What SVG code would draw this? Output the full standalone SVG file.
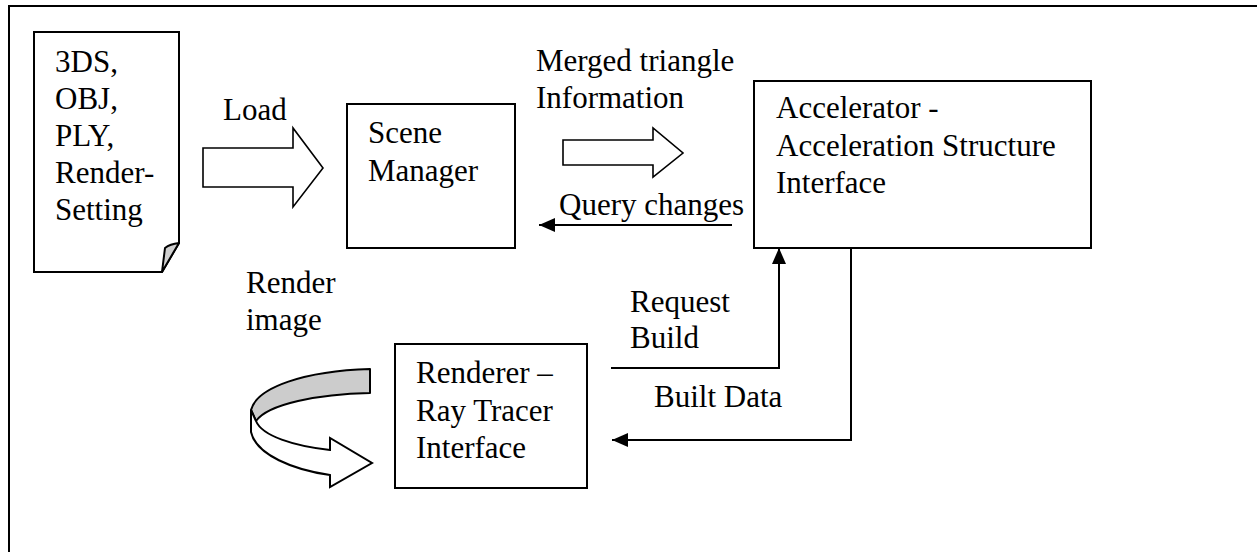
<svg xmlns="http://www.w3.org/2000/svg" width="1257" height="552" viewBox="0 0 1257 552">
  <style>
    text { font-family: "Liberation Serif", "Times New Roman", serif; font-size: 31px; fill: #000; }
    .box { fill: #fff; stroke: #000; stroke-width: 2; }
    .blk { fill: #fff; stroke: #000; stroke-width: 1.6; stroke-linejoin: miter; }
    .wire { fill: none; stroke: #000; stroke-width: 2; }
  </style>
  <defs>
    <marker id="tri" viewBox="0 0 16 14" refX="16" refY="7" markerWidth="16" markerHeight="14" markerUnits="userSpaceOnUse" orient="auto">
      <path d="M0,0 L16,7 L0,14 Z" fill="#000"/>
    </marker>
  </defs>

  <rect width="1257" height="552" fill="#fff"/>
  <!-- page frame -->
  <path d="M9,552 L9,6 L1257,6" fill="none" stroke="#000" stroke-width="2"/>

  <!-- input files document -->
  <g id="input-files">
    <path class="box" d="M34,32 L179,32 L179,243 L162,272 L34,272 Z"/>
    <path d="M179,243 Q170,244 165,248 L162,272 Z" fill="#d0d0d0" stroke="#000" stroke-width="2" stroke-linejoin="round"/>
    <text x="55" y="72">3DS,</text>
    <text x="55" y="109">OBJ,</text>
    <text x="55" y="146">PLY,</text>
    <text x="55" y="183">Render-</text>
    <text x="55" y="220">Setting</text>
  </g>

  <g id="scene-manager">
    <rect class="box" x="347" y="104" width="168" height="144"/>
    <text x="368" y="143">Scene</text>
    <text x="368" y="181">Manager</text>
  </g>

  <g id="accelerator">
    <rect class="box" x="754" y="81" width="337" height="167"/>
    <text x="776" y="118">Accelerator -</text>
    <text x="776" y="156">Acceleration Structure</text>
    <text x="776" y="193">Interface</text>
  </g>

  <g id="renderer">
    <rect class="box" x="395" y="344" width="192" height="144"/>
    <text x="416" y="383">Renderer –</text>
    <text x="416" y="421">Ray Tracer</text>
    <text x="416" y="458">Interface</text>
  </g>

  <!-- connectors and labels -->
  <g id="connectors">
    <!-- load block arrow -->
    <path class="blk" d="M203,148 L293,148 L293,128 L323,168 L293,207 L293,187 L203,187 Z"/>
    <text x="223" y="120">Load</text>

    <!-- merged triangle block arrow -->
    <path class="blk" d="M563,140 L653,140 L653,128 L683,153 L653,177 L653,165 L563,165 Z"/>
    <text x="536" y="71">Merged triangle</text>
    <text x="536" y="108">Information</text>

    <!-- query changes -->
    <line class="wire" x1="732" y1="225" x2="539" y2="225" marker-end="url(#tri)"/>
    <text x="559" y="215">Query changes</text>

    <!-- request build -->
    <path class="wire" d="M611,368 L779,368 L779,248" marker-end="url(#tri)"/>
    <text x="630" y="312">Request</text>
    <text x="630" y="348">Build</text>

    <!-- built data -->
    <path class="wire" d="M851,248 L851,440 L612,440" marker-end="url(#tri)"/>
    <text x="654" y="407">Built Data</text>

    <!-- render image loop arrow -->
    <path d="M370,369 C305,371 257,387 251,410 L256,421 C268,404 318,394 370,393 Z" fill="#cccccc" stroke="#000" stroke-width="2" stroke-linejoin="round"/>
    <path d="M251,410 L251,432 C256,455 294,470 330,475 L330,487 L372,463 L330,438 L330,450 C294,446 262,436 256,421 Z" fill="#fff" stroke="#000" stroke-width="2" stroke-linejoin="miter"/>
    <text x="246" y="293">Render</text>
    <text x="246" y="330">image</text>
  </g>
</svg>
